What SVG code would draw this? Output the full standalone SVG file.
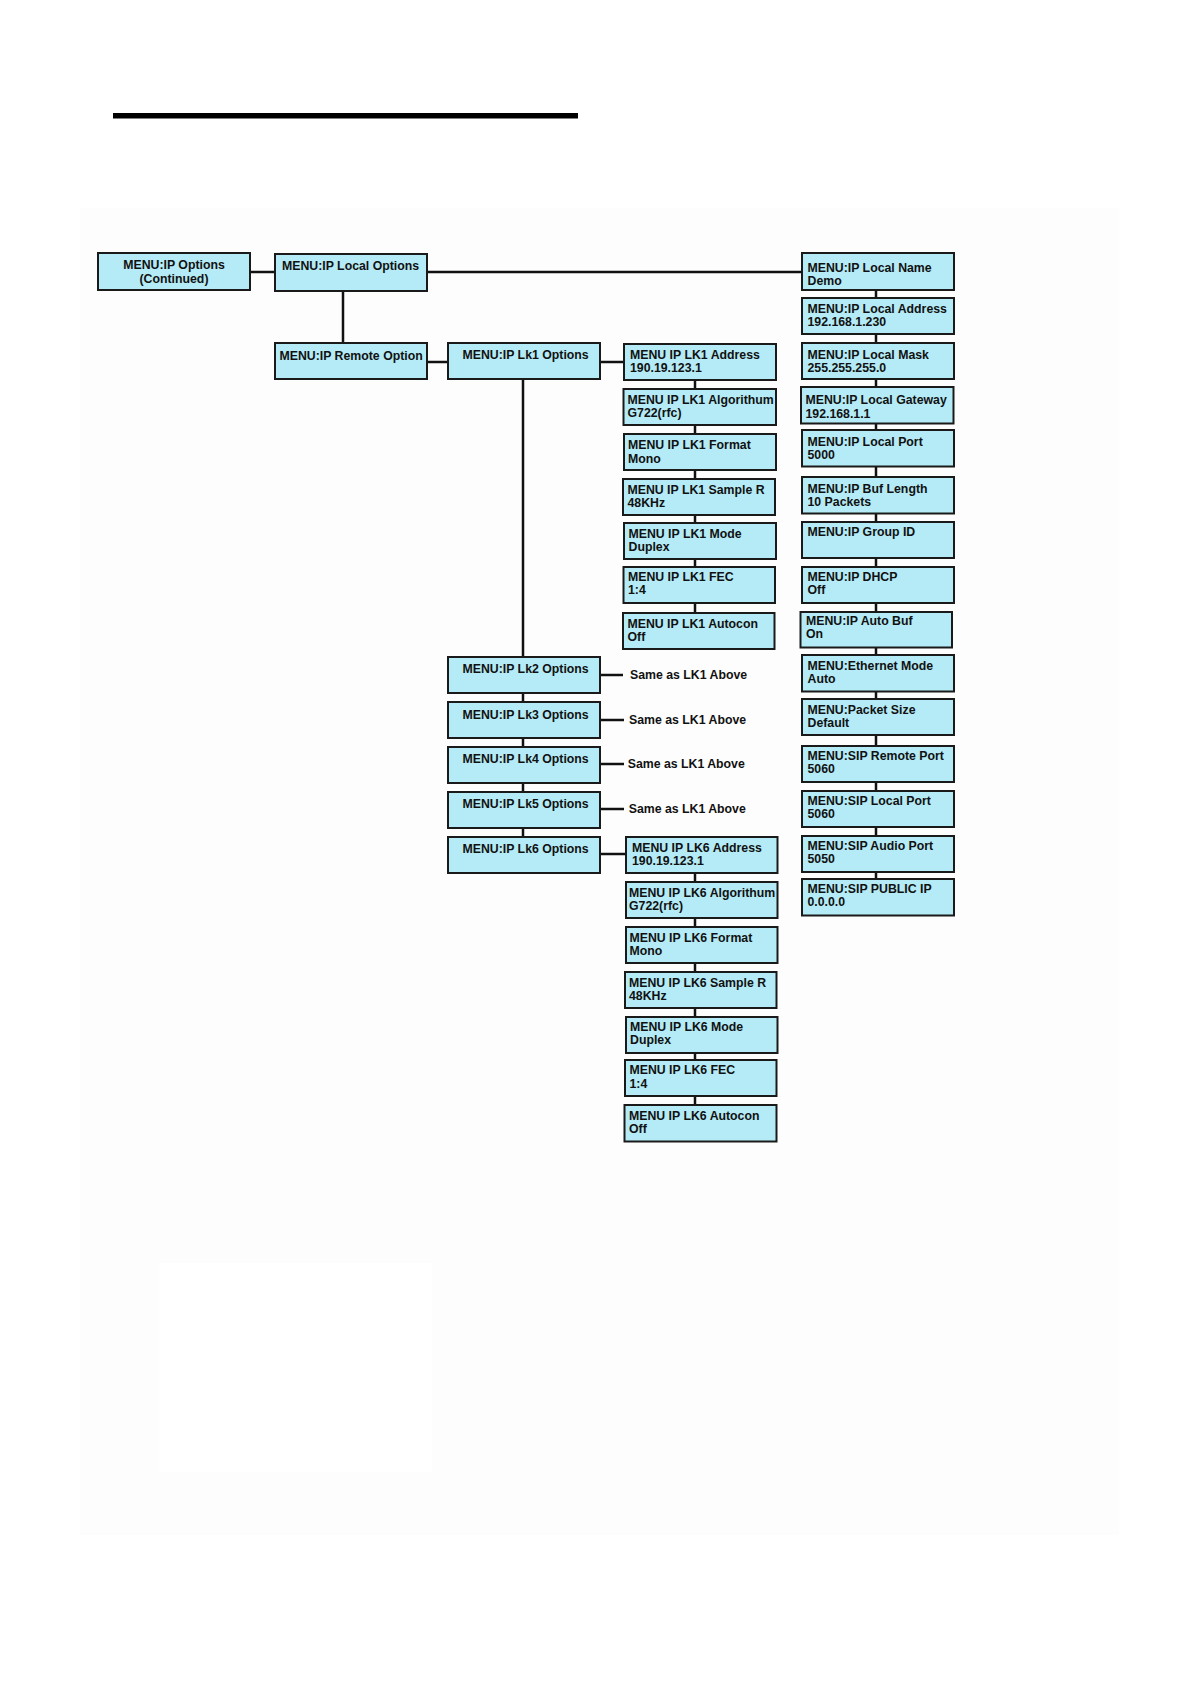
<svg xmlns="http://www.w3.org/2000/svg" width="1190" height="1684" viewBox="0 0 1190 1684">
<style>
.node rect{fill:#b4ebf6;stroke:#1a1a1a;stroke-width:2}
text{font-family:"Liberation Sans",Arial,sans-serif;font-weight:bold;font-size:12.3px;fill:#111}
.c{text-anchor:middle}
#connectors line{stroke:#111;stroke-width:2.5}
</style>
<rect width="1190" height="1684" fill="#ffffff"/>
<rect x="80" y="208" width="1039" height="1327" fill="#fdfdfd"/>
<rect x="159" y="1263" width="273" height="209" fill="#ffffff"/>
<rect x="113" y="113" width="465" height="5.5" fill="#000"/>

<g id="connectors">
<line x1="250" y1="272" x2="275" y2="272"/>
<line x1="427" y1="272" x2="802" y2="272"/>
<line x1="343" y1="291" x2="343" y2="343"/>
<line x1="427" y1="362" x2="448" y2="362"/>
<line x1="600" y1="362" x2="624" y2="362"/>
<line x1="523" y1="379" x2="523" y2="657"/>
<line x1="523" y1="693" x2="523" y2="702"/>
<line x1="523" y1="738" x2="523" y2="747"/>
<line x1="523" y1="783" x2="523" y2="792"/>
<line x1="523" y1="828" x2="523" y2="837"/>
<line x1="600" y1="675" x2="623" y2="675"/>
<line x1="600" y1="720" x2="624" y2="720"/>
<line x1="600" y1="764" x2="624" y2="764"/>
<line x1="600" y1="809" x2="624" y2="809"/>
<line x1="600" y1="854" x2="626" y2="854"/>
<line x1="695" y1="380" x2="695" y2="389"/>
<line x1="695" y1="425" x2="695" y2="434"/>
<line x1="695" y1="470" x2="695" y2="479"/>
<line x1="695" y1="515" x2="695" y2="523"/>
<line x1="695" y1="559" x2="695" y2="567"/>
<line x1="695" y1="603" x2="695" y2="613"/>
<line x1="695" y1="873" x2="695" y2="882"/>
<line x1="695" y1="918" x2="695" y2="927"/>
<line x1="695" y1="963" x2="695" y2="972"/>
<line x1="695" y1="1008" x2="695" y2="1017"/>
<line x1="695" y1="1053" x2="695" y2="1060"/>
<line x1="695" y1="1096" x2="695" y2="1105"/>
<line x1="876" y1="290" x2="876" y2="298"/>
<line x1="876" y1="334" x2="876" y2="343"/>
<line x1="876" y1="379" x2="876" y2="387"/>
<line x1="876" y1="423" x2="876" y2="430"/>
<line x1="876" y1="466" x2="876" y2="477"/>
<line x1="876" y1="513" x2="876" y2="522"/>
<line x1="876" y1="558" x2="876" y2="567"/>
<line x1="876" y1="603" x2="876" y2="612"/>
<line x1="876" y1="648" x2="876" y2="655"/>
<line x1="876" y1="691" x2="876" y2="699"/>
<line x1="876" y1="735" x2="876" y2="746"/>
<line x1="876" y1="782" x2="876" y2="791"/>
<line x1="876" y1="827" x2="876" y2="836"/>
<line x1="876" y1="872" x2="876" y2="879"/>
</g>

<g id="n-ipoptions" class="node"><rect x="98" y="253" width="152" height="37"/><text class="c" x="174" y="269.3">MENU:IP Options</text><text class="c" x="174" y="282.6">(Continued)</text></g>
<g id="n-local" class="node"><rect x="275" y="254" width="152" height="37"/><text x="282" y="270">MENU:IP Local Options</text></g>
<g id="n-remote" class="node"><rect x="275" y="343" width="152" height="36"/><text x="279.5" y="359.5">MENU:IP Remote Option</text></g>

<g id="n-lk1" class="node"><rect x="448" y="343" width="152" height="36"/><text x="462.5" y="359">MENU:IP Lk1 Options</text></g>
<g id="n-lk2" class="node"><rect x="448" y="657" width="152" height="36"/><text x="462.5" y="673.3">MENU:IP Lk2 Options</text></g>
<g id="n-lk3" class="node"><rect x="448" y="702" width="152" height="36"/><text x="462.5" y="718.5">MENU:IP Lk3 Options</text></g>
<g id="n-lk4" class="node"><rect x="448" y="747" width="152" height="36"/><text x="462.5" y="763">MENU:IP Lk4 Options</text></g>
<g id="n-lk5" class="node"><rect x="448" y="792" width="152" height="36"/><text x="462.5" y="808.3">MENU:IP Lk5 Options</text></g>
<g id="n-lk6" class="node"><rect x="448" y="837" width="152" height="36"/><text x="462.5" y="853.3">MENU:IP Lk6 Options</text></g>

<g id="n-same2"><text x="630" y="679.3">Same as LK1 Above</text></g>
<g id="n-same3"><text x="629" y="724.3">Same as LK1 Above</text></g>
<g id="n-same4"><text x="627.7" y="768.3">Same as LK1 Above</text></g>
<g id="n-same5"><text x="628.7" y="813.3">Same as LK1 Above</text></g>

<g id="n-lk1-addr" class="node"><rect x="624" y="344" width="152" height="36"/><text x="630" y="358.8">MENU IP LK1 Address</text><text x="630" y="372.2">190.19.123.1</text></g>
<g id="n-lk1-alg" class="node"><rect x="623.5" y="389" width="152.5" height="36"/><text x="627.5" y="404">MENU IP LK1 Algorithum</text><text x="627.5" y="417.4">G722(rfc)</text></g>
<g id="n-lk1-fmt" class="node"><rect x="624" y="434" width="152" height="36"/><text x="628" y="449.2">MENU IP LK1 Format</text><text x="628" y="462.6">Mono</text></g>
<g id="n-lk1-smp" class="node"><rect x="623" y="479" width="152" height="36"/><text x="627.5" y="493.8">MENU IP LK1 Sample R</text><text x="627.5" y="507.2">48KHz</text></g>
<g id="n-lk1-mode" class="node"><rect x="624" y="523" width="152" height="36"/><text x="628.5" y="538">MENU IP LK1 Mode</text><text x="628.5" y="551.4">Duplex</text></g>
<g id="n-lk1-fec" class="node"><rect x="623.5" y="567" width="151.5" height="36"/><text x="628" y="581">MENU IP LK1 FEC</text><text x="628" y="594.4">1:4</text></g>
<g id="n-lk1-auto" class="node"><rect x="623" y="613" width="151.5" height="36"/><text x="627.5" y="627.8">MENU IP LK1 Autocon</text><text x="627.5" y="641.2">Off</text></g>

<g id="n-lk6-addr" class="node"><rect x="626" y="837" width="151.5" height="36"/><text x="632" y="851.6">MENU IP LK6 Address</text><text x="632" y="865">190.19.123.1</text></g>
<g id="n-lk6-alg" class="node"><rect x="626" y="882" width="151.5" height="36"/><text x="629" y="897">MENU IP LK6 Algorithum</text><text x="629" y="910.4">G722(rfc)</text></g>
<g id="n-lk6-fmt" class="node"><rect x="626" y="927" width="151.5" height="36"/><text x="629.5" y="941.8">MENU IP LK6 Format</text><text x="629.5" y="955.2">Mono</text></g>
<g id="n-lk6-smp" class="node"><rect x="625" y="972" width="151.5" height="36"/><text x="629" y="986.8">MENU IP LK6 Sample R</text><text x="629" y="1000.2">48KHz</text></g>
<g id="n-lk6-mode" class="node"><rect x="626" y="1017" width="151.5" height="36"/><text x="630" y="1031">MENU IP LK6 Mode</text><text x="630" y="1044.4">Duplex</text></g>
<g id="n-lk6-fec" class="node"><rect x="625" y="1060" width="151.5" height="36"/><text x="629.5" y="1074.3">MENU IP LK6 FEC</text><text x="629.5" y="1087.7">1:4</text></g>
<g id="n-lk6-auto" class="node"><rect x="624.5" y="1105" width="152" height="36.5"/><text x="629" y="1120">MENU IP LK6 Autocon</text><text x="629" y="1133.4">Off</text></g>

<g id="n-lname" class="node"><rect x="802" y="253" width="152" height="37"/><text x="807.5" y="271.5">MENU:IP Local Name</text><text x="807.5" y="284.9">Demo</text></g>
<g id="n-laddr" class="node"><rect x="802" y="298" width="152" height="36"/><text x="807.5" y="312.5">MENU:IP Local Address</text><text x="807.5" y="325.9">192.168.1.230</text></g>
<g id="n-lmask" class="node"><rect x="802" y="343" width="152" height="36"/><text x="807.5" y="359">MENU:IP Local Mask</text><text x="807.5" y="372.4">255.255.255.0</text></g>
<g id="n-lgw" class="node"><rect x="801" y="387" width="152.5" height="36.5"/><text x="805.5" y="404.3">MENU:IP Local Gateway</text><text x="805.5" y="417.7">192.168.1.1</text></g>
<g id="n-lport" class="node"><rect x="802" y="430" width="152" height="36.5"/><text x="807.5" y="446">MENU:IP Local Port</text><text x="807.5" y="459.4">5000</text></g>
<g id="n-buf" class="node"><rect x="802" y="477" width="152" height="36.5"/><text x="807.5" y="492.5">MENU:IP Buf Length</text><text x="807.5" y="505.9">10 Packets</text></g>
<g id="n-group" class="node"><rect x="802" y="522" width="152" height="36"/><text x="807.5" y="536">MENU:IP Group ID</text></g>
<g id="n-dhcp" class="node"><rect x="802" y="567" width="152" height="36"/><text x="807.5" y="580.5">MENU:IP DHCP</text><text x="807.5" y="593.9">Off</text></g>
<g id="n-autobuf" class="node"><rect x="800.5" y="612" width="151.5" height="35.5"/><text x="806" y="624.5">MENU:IP Auto Buf</text><text x="806" y="637.9">On</text></g>
<g id="n-eth" class="node"><rect x="802" y="655" width="152" height="36.5"/><text x="807.5" y="669.5">MENU:Ethernet Mode</text><text x="807.5" y="682.9">Auto</text></g>
<g id="n-pkt" class="node"><rect x="802" y="699" width="152" height="36"/><text x="807.5" y="713.5">MENU:Packet Size</text><text x="807.5" y="726.9">Default</text></g>
<g id="n-siprem" class="node"><rect x="802" y="746" width="152" height="36"/><text x="807.5" y="759.5">MENU:SIP Remote Port</text><text x="807.5" y="772.9">5060</text></g>
<g id="n-siploc" class="node"><rect x="802" y="791" width="152" height="36"/><text x="807.5" y="804.5">MENU:SIP Local Port</text><text x="807.5" y="817.9">5060</text></g>
<g id="n-sipaud" class="node"><rect x="802" y="836" width="152" height="36"/><text x="807.5" y="849.5">MENU:SIP Audio Port</text><text x="807.5" y="862.9">5050</text></g>
<g id="n-sippub" class="node"><rect x="802" y="879" width="152" height="36.5"/><text x="807.5" y="892.5">MENU:SIP PUBLIC IP</text><text x="807.5" y="905.9">0.0.0.0</text></g>
</svg>
